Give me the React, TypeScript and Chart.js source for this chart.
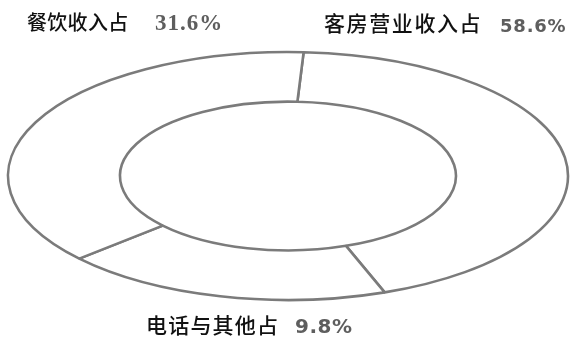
import React, { useEffect, useRef } from "react";
import { Chart, registerables } from "chart.js";

Chart.register(...registerables);

// Segment names and the printed shares (text on the figure)
const categories = ["客房营业收入占", "电话与其他占", "餐饮收入占"];
const printedShares = ["58.6%", "9.8%", "31.6%"];
// Slice sizes as drawn in the figure (percent of the ring)
const sliceSizes = [43.5, 19.0, 37.5];
const startAngle = 3.2; // degrees clockwise from top

// Ellipse layout (ring is a tilted circle)
const CX = 288;
const CY = 176;
const RX = 280;
const RY = 124;

const LINE = "#7b7b7b";

type LabelSpec = {
  idx: number;
  nameX: number;
  nameY: number;
  nameSize: number;
  nameSpacing: number;
  valX: number;
  valY: number;
  valFont: string;
  valSpacing: number;
};

const labelLayout: LabelSpec[] = [
  { idx: 0, nameX: 324, nameY: 23, nameSize: 21, nameSpacing: 1.6, valX: 500, valY: 27, valFont: "bold 18px 'DejaVu Sans'", valSpacing: 0.8 },
  { idx: 1, nameX: 146, nameY: 325, nameSize: 21, nameSpacing: 1.2, valX: 295, valY: 328, valFont: "bold 20px 'DejaVu Sans'", valSpacing: 0.5 },
  { idx: 2, nameX: 27, nameY: 22, nameSize: 20, nameSpacing: 0.3, valX: 155, valY: 24, valFont: "bold 23px 'Liberation Serif'", valSpacing: 1 },
];

const ellipsePlugin = {
  id: "ellipseRing",
  beforeDatasetsDraw(chart: any) {
    const ctx = chart.ctx as CanvasRenderingContext2D;
    const arc = chart.getDatasetMeta(0).data[0] as any;
    if (!arc) return;
    const R = arc.outerRadius || 1;
    ctx.save();
    ctx.translate(CX, CY);
    ctx.scale(RX / R, RY / R);
    ctx.translate(-arc.x, -arc.y);
    const orig = CanvasRenderingContext2D.prototype.stroke;
    (ctx as any).stroke = function (...args: any[]) {
      ctx.save();
      ctx.setTransform(1, 0, 0, 1, 0, 0);
      (orig as any).apply(ctx, args);
      ctx.restore();
    };
  },
  afterDatasetsDraw(chart: any) {
    const ctx = chart.ctx as any;
    delete ctx.stroke;
    ctx.restore();
  },
  afterDraw(chart: any) {
    const ctx = chart.ctx as any;
    ctx.save();
    ctx.textAlign = "left";
    ctx.textBaseline = "middle";
    for (const l of labelLayout) {
      ctx.fillStyle = "#111111";
      ctx.font = `500 ${l.nameSize}px 'Noto Sans CJK SC'`;
      ctx.letterSpacing = `${l.nameSpacing}px`;
      ctx.fillText(categories[l.idx], l.nameX, l.nameY);
      ctx.fillStyle = "#5e5e5e";
      ctx.font = l.valFont;
      ctx.letterSpacing = `${l.valSpacing}px`;
      ctx.fillText(printedShares[l.idx], l.valX, l.valY);
    }
    ctx.restore();
  },
};

export default function App() {
  const ref = useRef<HTMLCanvasElement | null>(null);
  useEffect(() => {
    if (!ref.current) return;
    const chart = new Chart(ref.current, {
      type: "doughnut",
      data: {
        labels: categories,
        datasets: [
          {
            data: sliceSizes,
            backgroundColor: "#ffffff",
            borderColor: LINE,
            borderWidth: 2.6,
            hoverOffset: 0,
          },
        ],
      },
      options: {
        responsive: false,
        animation: false,
        cutout: "60%",
        rotation: startAngle,
        events: [],
        layout: { padding: 10 },
        plugins: {
          legend: { display: false },
          tooltip: { enabled: false },
          title: { display: false },
        },
      },
      plugins: [ellipsePlugin],
    });
    return () => chart.destroy();
  }, []);
  return (
    <div style={{ position: "absolute", left: 0, top: 0, width: 570, height: 338, background: "#fff" }}>
      <canvas ref={ref} width={570} height={338} style={{ width: 570, height: 338, display: "block" }} />
    </div>
  );
}
